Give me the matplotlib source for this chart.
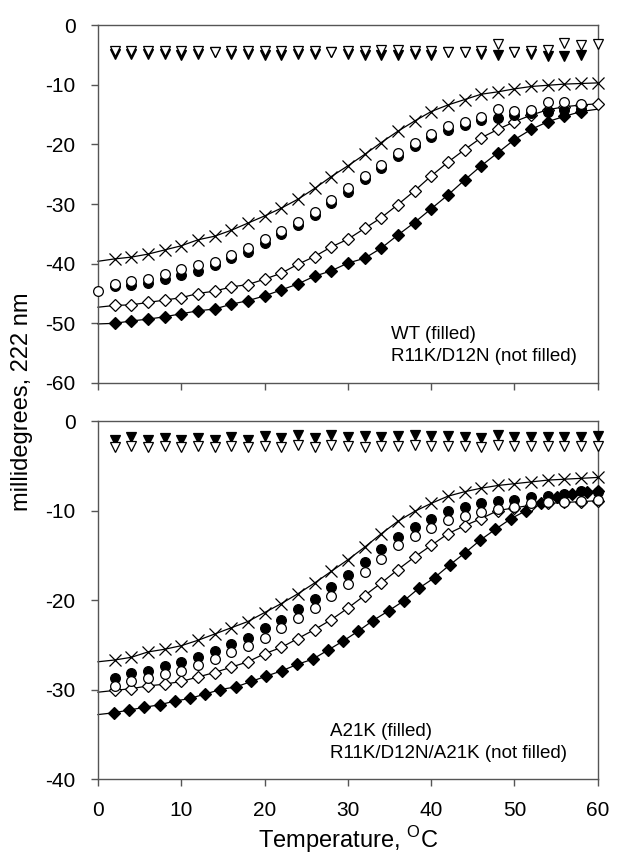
import matplotlib
matplotlib.use("Agg")
import matplotlib.pyplot as plt
from matplotlib.ticker import MultipleLocator

plt.rcParams['font.family'] = ['Liberation Sans', 'DejaVu Sans']
plt.rcParams['mathtext.fontset'] = 'custom'
plt.rcParams['mathtext.rm'] = 'Liberation Sans'
plt.rcParams['axes.unicode_minus'] = False

# temperature grid of the CD melts (deg C)
temps = [2, 4, 6, 8, 10, 12, 14, 16, 18, 20, 22, 24, 26, 28, 30,
         32, 34, 36, 38, 40, 42, 44, 46, 48, 50, 52, 54, 56, 58, 60]

# ---- WT / R11K-D12N panel ----
wt_tri = [-4.9, -4.8, -4.8, -4.8, -5.1, -4.8, -4.6, -4.8, -4.8, -5.0,
          -5.0, -4.9, -4.9, -4.5, -4.9, -5.0, -5.1, -5.1, -4.9, -5.0,
          -4.5, -4.6, -4.9, -5.1, -4.5, -4.9, -5.2, -5.2, -5.1]
rd_tri = [-4.4, -4.4, -4.4, -4.4, -4.3, -4.4, -4.6, -4.4, -4.4, -4.3,
          -4.3, -4.4, -4.4, -4.5, -4.3, -4.3, -4.2, -4.2, -4.3, -4.3,
          -4.5, -4.6, -4.3, -3.2, -4.5, -4.3, -4.2, -3.0, -3.4, -3.1]
top_x = [-39.2, -38.9, -38.4, -37.7, -37.0, -36.0, -35.4, -34.4, -33.2, -32.0,
         -30.7, -29.2, -27.4, -25.4, -23.6, -21.7, -19.7, -17.8, -16.1, -14.5,
         -13.4, -12.5, -11.6, -11.2, -10.7, -10.3, -10.1, -9.9, -9.8, -9.7]
top_x0 = -39.6
wt_circ = [-43.8, -43.5, -43.2, -42.6, -41.9, -41.2, -40.2, -39.1, -38.0, -36.6,
           -35.1, -33.5, -31.8, -29.9, -28.0, -25.8, -23.9, -22.0, -20.3, -18.7,
           -17.6, -16.8, -15.9, -15.6, -15.1, -14.8, -14.5, -14.3, -14.1]
rd_circ_t = [0] + temps[:-1]
rd_circ = [-44.6, -43.4, -42.9, -42.5, -41.7, -40.9, -40.3, -39.7, -38.5, -37.4,
           -35.9, -34.5, -33.0, -31.3, -29.3, -27.4, -25.3, -23.5, -21.4, -19.8,
           -18.2, -17.0, -16.2, -15.5, -14.0, -14.4, -14.2, -12.9, -12.9, -13.3]
rd_dia = [-47.0, -46.9, -46.5, -46.1, -45.7, -45.0, -44.6, -43.9, -43.5, -42.6,
          -41.6, -40.1, -38.8, -37.2, -35.9, -34.1, -32.3, -30.1, -27.8, -25.3,
          -23.0, -20.9, -18.9, -17.5, -16.2, -15.1, -14.2, -13.7, -13.4, -13.2]
rd_dia0 = -47.3
wt_dia = [-50.0, -49.6, -49.3, -48.9, -48.4, -47.9, -47.6, -46.8, -46.2, -45.4,
          -44.4, -43.4, -42.1, -41.2, -39.9, -39.1, -37.4, -35.2, -33.1, -30.8,
          -28.5, -26.0, -23.6, -21.4, -19.2, -17.5, -16.2, -15.3, -14.5]
wt_dia0, wt_dia60 = -50.1, -14.1

# ---- A21K / R11K-D12N-A21K panel ----
a21_tri = [-2.1, -1.8, -2.1, -1.9, -2.1, -1.9, -2.1, -1.8, -2.1, -1.7,
           -1.9, -1.6, -1.9, -1.6, -1.8, -1.7, -1.8, -1.7, -1.6, -1.7,
           -1.7, -1.8, -1.9, -1.6, -1.8, -1.8, -1.8, -1.8, -1.8, -1.7]
tri3_tri = [-2.9, -2.8, -2.9, -2.8, -2.9, -2.8, -2.9, -2.8, -2.9, -2.8,
            -2.9, -2.7, -2.9, -2.7, -2.8, -2.9, -2.8, -2.8, -2.7, -2.8,
            -2.8, -2.8, -2.9, -2.7, -2.8, -2.8, -2.8, -2.8, -2.8, -2.8]
bot_x = [-26.7, -26.4, -25.8, -25.5, -25.1, -24.5, -23.8, -23.1, -22.4, -21.4,
         -20.4, -19.3, -18.1, -16.8, -15.5, -14.1, -12.6, -11.2, -10.1, -9.2,
         -8.4, -7.9, -7.5, -7.2, -7.0, -6.8, -6.6, -6.5, -6.4, -6.3]
bot_x0 = -26.9
a21_circ = [-28.7, -28.2, -27.9, -27.4, -26.9, -26.4, -25.7, -24.9, -24.2, -23.1,
            -22.2, -21.0, -19.9, -18.5, -17.2, -15.8, -14.3, -13.0, -11.8, -10.9,
            -10.1, -9.6, -9.2, -8.9, -8.8, -8.5, -8.4, -8.1, -7.8, -7.9]
tri3_circ = [-29.6, -29.0, -28.7, -28.3, -27.9, -27.3, -26.6, -25.8, -25.1, -24.2,
             -23.1, -22.0, -20.9, -19.5, -18.2, -16.9, -15.4, -13.9, -12.8, -11.9,
             -11.1, -10.6, -10.2, -9.8, -9.6, -9.2, -9.1, -9.0, -8.9, -8.8]
tri3_dia = [-30.1, -29.9, -29.6, -29.4, -29.1, -28.6, -28.1, -27.5, -26.9, -26.0,
            -25.3, -24.3, -23.3, -22.2, -20.9, -19.5, -18.1, -16.6, -15.2, -13.9,
            -12.6, -11.7, -10.9, -10.0, -9.7, -9.4, -9.2, -9.1, -9.0, -8.9]
tri3_dia0 = -30.3
a21_dia_t = [1.9, 3.7, 5.5, 7.4, 9.2, 11.0, 12.9, 14.7, 16.6, 18.4, 20.2,
             22.1, 23.9, 25.8, 27.6, 29.4, 31.2, 33.0, 34.9, 36.7, 38.5,
             40.4, 42.2, 44.1, 45.9, 47.7, 49.6, 51.4, 53.2, 55.1, 56.9,
             58.7, 60.0]
a21_dia = [-32.6, -32.3, -32.0, -31.7, -31.3, -31.0, -30.5, -30.0, -29.7, -29.1,
           -28.5, -27.9, -27.2, -26.6, -25.6, -24.6, -23.5, -22.3, -21.2, -20.1,
           -18.7, -17.5, -16.1, -14.7, -13.3, -12.1, -10.9, -10.0, -9.2, -8.5,
           -8.1, -7.9, -7.8]
a21_dia0 = -32.8

fig = plt.figure(figsize=(6.24, 8.57), dpi=100)
ax1 = fig.add_axes([0.157, 0.5531, 0.801, 0.4177])
ax2 = fig.add_axes([0.157, 0.0910, 0.801, 0.4177])

mew = 0.9
filled = dict(color='black', mfc='black', mec='black', mew=mew, ms=7, ls='none')
opened = dict(color='black', mfc='white', mec='black', mew=mew, ms=7, ls='none')
cross = dict(color='black', mew=mew, ms=8, ls='none')
fitline = dict(color='black', lw=0.9)


def melt(ax, xs, ys, marker, style, x0=None, x60=None, line=False, ms=None):
    if line:
        lx = ([0] if x0 is not None else []) + list(xs) + ([60] if x60 is not None else [])
        ly = ([x0] if x0 is not None else []) + list(ys) + ([x60] if x60 is not None else [])
        ax.plot(lx, ly, **fitline, zorder=2)
    kw = dict(style)
    if ms is not None:
        kw['ms'] = ms
    ax.plot(xs, ys, marker=marker, **kw, zorder=3)


# top panel
melt(ax1, temps, top_x, 'x', cross, x0=top_x0, line=True)
melt(ax1, temps[:-1], wt_dia, 'D', filled, x0=wt_dia0, x60=wt_dia60, line=True, ms=6.3)
melt(ax1, temps, rd_dia, 'D', opened, x0=rd_dia0, line=True, ms=6.3)
melt(ax1, temps[:-1], wt_circ, 'o', filled)
melt(ax1, rd_circ_t, rd_circ, 'o', opened)
melt(ax1, temps[:-1], wt_tri, 'v', filled)
melt(ax1, temps, rd_tri, 'v', opened)

# bottom panel
melt(ax2, temps, bot_x, 'x', cross, x0=bot_x0, line=True)
melt(ax2, a21_dia_t, a21_dia, 'D', filled, x0=a21_dia0, line=True, ms=6.3)
melt(ax2, temps, tri3_dia, 'D', opened, x0=tri3_dia0, line=True, ms=6.3)
melt(ax2, temps, a21_circ, 'o', filled)
melt(ax2, temps, tri3_circ, 'o', opened)
melt(ax2, temps, a21_tri, 'v', filled)
melt(ax2, temps, tri3_tri, 'v', opened)

for ax, lo in ((ax1, -60), (ax2, -40)):
    ax.set_xlim(0, 60)
    ax.set_ylim(lo, 0)
    ax.xaxis.set_major_locator(MultipleLocator(10))
    ax.yaxis.set_major_locator(MultipleLocator(10))
    for s in ax.spines.values():
        s.set_color('#555555')
        s.set_linewidth(1.0)
    ax.tick_params(direction='out', length=5, width=1.0, color='#555555',
                   labelsize=15, pad=11, top=False, right=False)
    for art in ax.lines:
        art.set_clip_on(False)

ax1.tick_params(labelbottom=False)

ax1.text(35.2, -51.8, 'WT (filled)', fontsize=13.5, va='center', ha='left')
ax1.text(35.2, -55.6, 'R11K/D12N (not filled)', fontsize=13.5, va='center', ha='left')
ax2.text(27.9, -34.7, 'A21K (filled)', fontsize=13.5, va='center', ha='left')
ax2.text(27.9, -37.2, 'R11K/D12N/A21K (not filled)', fontsize=13.5, va='center', ha='left')

ax2.set_xlabel(r'Temperature, $^{\mathrm{O}}$C', fontsize=17, labelpad=3)
fig.text(0.035, 0.531, 'millidegrees, 222 nm', rotation=90, fontsize=17,
         ha='center', va='center')

fig.savefig('out.png', dpi=100)
